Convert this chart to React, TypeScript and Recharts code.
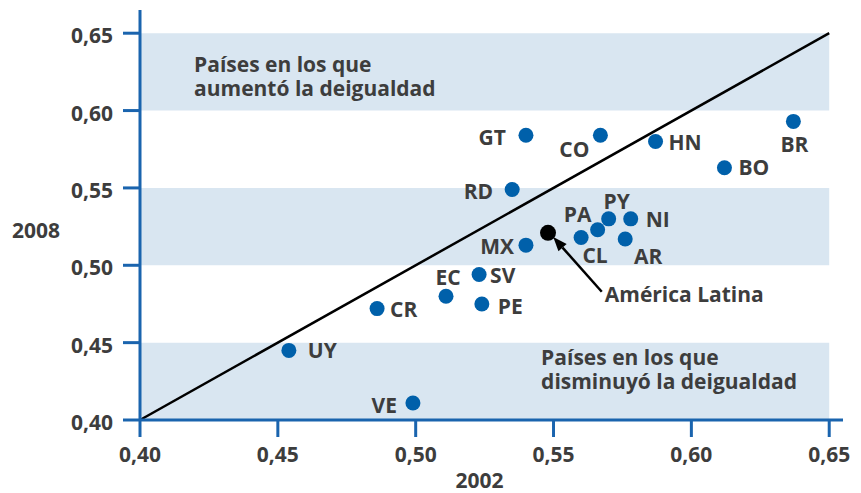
import React from 'react';
import {
  ScatterChart, Scatter, XAxis, YAxis, ReferenceArea, ReferenceLine, ReferenceDot,
} from 'recharts';

const codes = ['GT', 'CO', 'HN', 'BR', 'BO', 'RD', 'MX', 'PA', 'PY', 'NI', 'CL', 'AR', 'SV', 'PE', 'EC', 'CR', 'UY', 'VE'];
const gini2002 = [0.540, 0.567, 0.587, 0.637, 0.612, 0.535, 0.540, 0.566, 0.570, 0.578, 0.560, 0.576, 0.523, 0.524, 0.511, 0.486, 0.454, 0.499];
const gini2008 = [0.584, 0.584, 0.580, 0.593, 0.563, 0.549, 0.513, 0.523, 0.530, 0.530, 0.518, 0.517, 0.494, 0.475, 0.480, 0.472, 0.445, 0.411];

const latam = { name: 'América Latina', x: 0.548, y: 0.521 };
const latamLabelAt = { x: 0.5675, y: 0.4829 };

const ticks = [0.40, 0.45, 0.50, 0.55, 0.60, 0.65];
const bands = [[0.40, 0.45], [0.50, 0.55], [0.60, 0.65]];
const upText = ['Países en los que', 'aumentó la deigualdad'];
const downText = ['Países en los que', 'disminuyó la deigualdad'];

const BLUE = '#0060aa';
const AXIS = '#1a64ae';
const BAND = '#d9e6f1';
const TEXT = '#3d3d3d';
const FONT = '"Open Sans", sans-serif';

// where each country code sits next to its dot
const labelPos: Record<string, [number, number, string]> = {
  GT: [-20, 10, 'end'], CO: [-11, 22, 'end'], HN: [13, 8, 'start'], BR: [1, 31, 'middle'],
  BO: [14, 7, 'start'], RD: [-19, 10, 'end'], MX: [-12, 9, 'end'], PA: [-20, -8, 'middle'],
  PY: [8, -10, 'middle'], NI: [15, 8, 'start'], CL: [14, 26, 'middle'], AR: [23, 25, 'middle'],
  SV: [11, 8, 'start'], PE: [16, 10, 'start'], EC: [2, -11, 'middle'], CR: [13, 8, 'start'],
  UY: [19, 8, 'start'], VE: [-16, 10, 'end'],
};

const data = codes.map((c, i) => ({ code: c, x: gini2002[i], y: gini2008[i] }));
const fmt = (v: number) => v.toFixed(2).replace('.', ',');

const textStyle = { fontFamily: FONT, fontWeight: 700, fontSize: 21, fill: TEXT };

const CountryDot = (props: any) => {
  const { cx, cy, payload } = props;
  const [dx, dy, anchor] = labelPos[payload.code];
  return (
    <g>
      <circle cx={cx} cy={cy} r={7.5} fill={BLUE} />
      <text x={cx + dx} y={cy + dy} textAnchor={anchor} {...textStyle}>{payload.code}</text>
    </g>
  );
};

const YTick = ({ x, y, payload }: any) => (
  <text x={x} y={y + 10} textAnchor="end" {...textStyle}>{fmt(payload.value)}</text>
);

const XTick = ({ x, y, payload }: any) => (
  <text x={x} y={y + 25} textAnchor="middle" {...textStyle}>{fmt(payload.value)}</text>
);

const bandNote = (lines: string[]) => (p: any) => {
  const { viewBox } = p;
  return (
    <g>
      {lines.map((l, i) => (
        <text key={i} x={viewBox.x} y={viewBox.y + i * 24} {...textStyle}>{l}</text>
      ))}
    </g>
  );
};

const Arrow = (p: any) => {
  const { x1, y1, x2, y2 } = p;
  const ang = Math.atan2(y2 - y1, x2 - x1);
  const len = 14, half = 5.5;
  const bx = x2 - len * Math.cos(ang), by = y2 - len * Math.sin(ang);
  const px = -Math.sin(ang) * half, py = Math.cos(ang) * half;
  return (
    <g>
      <line x1={x1} y1={y1} x2={bx} y2={by} stroke="#000" strokeWidth={2.5} />
      <polygon points={`${x2},${y2} ${bx + px},${by + py} ${bx - px},${by - py}`} fill="#000" />
      <text x={x1 + 3} y={y1 + 10} {...textStyle}>{latam.name}</text>
    </g>
  );
};

export default function App() {
  return (
    <div style={{ position: 'absolute', left: 0, top: 0 }}>
      <ScatterChart width={861} height={493} margin={{ top: 10, right: 18, left: 0, bottom: 0 }}>
        {bands.map(([a, b], i) => (
          <ReferenceArea key={i} x1={0.40} x2={0.65} y1={a} y2={b} fill={BAND} fillOpacity={1} stroke="none" />
        ))}
        <XAxis
          type="number" dataKey="x" domain={[0.40, 0.655]} ticks={ticks} height={73}
          axisLine={{ stroke: AXIS, strokeWidth: 3 }} tickLine={{ stroke: AXIS, strokeWidth: 3 }}
          tickSize={17} tickMargin={0} tick={<XTick />}
          label={{
            content: (p: any) => (
              <text x={p.viewBox.x + p.viewBox.width / 2 - 12} y={p.viewBox.y + 68} textAnchor="middle" {...textStyle}>2002</text>
            ),
          }}
        />
        <YAxis
          type="number" dataKey="y" domain={[0.40, 0.665]} ticks={ticks} width={140}
          axisLine={{ stroke: AXIS, strokeWidth: 3 }} tickLine={{ stroke: AXIS, strokeWidth: 3 }}
          tickSize={17} tickMargin={10} tick={<YTick />}
          label={{
            content: (p: any) => (
              <text x={p.viewBox.x + 12} y={p.viewBox.y + p.viewBox.height / 2 + 23} {...textStyle}>2008</text>
            ),
          }}
        />
        <ReferenceLine
          segment={[{ x: 0.40, y: 0.40 }, { x: 0.65, y: 0.65 }]}
          stroke="#000" strokeWidth={2.5} ifOverflow="visible"
        />
        <ReferenceDot x={0.4196} y={0.6248} r={0} stroke="none" label={{ content: bandNote(upText) }} />
        <ReferenceDot x={0.5455} y={0.4356} r={0} stroke="none" label={{ content: bandNote(downText) }} />
        <ReferenceLine
          segment={[latamLabelAt, { x: latam.x + 0.0019, y: latam.y - 0.0028 }]}
          ifOverflow="visible" shape={<Arrow />}
        />
        <Scatter data={data} isAnimationActive={false} shape={<CountryDot />} />
        <Scatter data={[latam]} isAnimationActive={false} fill="#000"
          shape={(p: any) => <circle cx={p.cx} cy={p.cy} r={8} fill="#000" />} />
      </ScatterChart>
    </div>
  );
}
